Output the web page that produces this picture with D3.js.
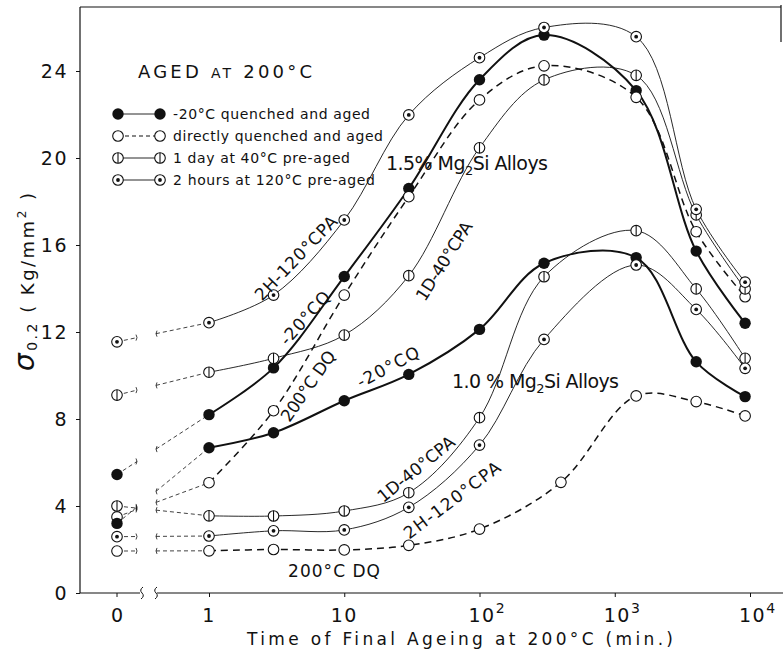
<!DOCTYPE html>
<html>
<head>
<meta charset="utf-8">
<script src="https://cdn.jsdelivr.net/npm/d3@7"></script>
<style>
  body { margin: 0; background: #fff; }
  svg { display: block; }
  text { font-family: "DejaVu Sans", "Liberation Sans", sans-serif; fill: #111; }
</style>
</head>
<body>
<svg id="chart" width="783" height="656"></svg>
<script>
// Ageing times (min.) of the measured points after the axis break
const timesMain = [1, 3, 10, 30, 100, 300, 1440, 4000, 9200];
const timesDQ10 = [1, 3, 10, 30, 100, 400, 1440, 4000, 9200];

// 1.5 % Mg2Si alloys: 0.2 % proof stress (Kg/mm2); "zero" = as-treated value at t = 0
const cq15Zero = 5.45;
const cq15 = [8.2, 10.35, 14.55, 18.6, 23.6, 25.65, 23.1, 15.72, 12.4];
const dq15Zero = 3.5;
const dq15 = [5.07, 8.38, 13.7, 18.22, 22.67, 24.24, 22.79, 16.61, 13.62];
const d40x15Zero = 9.1;
const d40x15 = [10.15, 10.79, 11.86, 14.59, 20.47, 23.59, 23.8, 17.38, 13.98];
const h120x15Zero = 11.55;
const h120x15 = [12.43, 13.7, 17.15, 21.98, 24.61, 26.0, 25.58, 17.64, 14.29];

// 1.0 % Mg2Si alloys
const cq10Zero = 3.2;
const cq10 = [6.68, 7.37, 8.84, 10.05, 12.12, 15.16, 15.42, 10.63, 9.03];
const dq10Zero = 1.93;
const dq10 = [1.94, 2.0, 1.98, 2.19, 2.94, 5.09, 9.06, 8.8, 8.14];
const d40x10Zero = 4.0;
const d40x10 = [3.55, 3.54, 3.77, 4.61, 8.06, 14.54, 16.66, 13.98, 10.79];
const h120x10Zero = 2.59;
const h120x10 = [2.62, 2.86, 2.9, 3.94, 6.8, 11.66, 15.08, 13.04, 10.33];

// Axis ticks
const yTicks = [0, 4, 8, 12, 16, 20, 24];
const xTicks = [1, 10, 100, 1000, 10000];
const xTickBase = ["1", "10", "10", "10", "10"];
const xTickExp = ["", "", "2", "3", "4"];

// Legend
const legendLabels = [
  "-20°C quenched and aged",
  "directly quenched and aged",
  "1 day at 40°C pre-aged",
  "2 hours at 120°C pre-aged"
];
const legendMarkers = ["filled", "open", "half", "dot"];

const INK = "#111";
const svg = d3.select("#chart");

const xs = d3.scaleLog().domain([1, 10000]).range([209, 750]);
const xZero = 117;
const ys = d3.scaleLinear().domain([0, 24]).range([593, 71]);

const series = [
  { zero: cq15Zero, times: timesMain, values: cq15, marker: "filled", style: "thick" },
  { zero: dq15Zero, times: timesMain, values: dq15, marker: "open", style: "dashed" },
  { zero: d40x15Zero, times: timesMain, values: d40x15, marker: "half", style: "thin" },
  { zero: h120x15Zero, times: timesMain, values: h120x15, marker: "dot", style: "thin" },
  { zero: cq10Zero, times: timesMain, values: cq10, marker: "filled", style: "thick" },
  { zero: dq10Zero, times: timesDQ10, values: dq10, marker: "open", style: "dashed" },
  { zero: d40x10Zero, times: timesMain, values: d40x10, marker: "half", style: "thin" },
  { zero: h120x10Zero, times: timesMain, values: h120x10, marker: "dot", style: "thin" }
];

const lineStyles = {
  thick: { w: 2.0, dash: null },
  dashed: { w: 1.5, dash: "7,5" },
  thin: { w: 0.9, dash: null }
};

// ---- frame and axes ----
const frame = svg.append("g").attr("stroke", INK).attr("fill", "none");
frame.append("line").attr("x1", 80).attr("x2", 80).attr("y1", 7).attr("y2", 593).attr("stroke-width", 1.2);
frame.append("line").attr("x1", 80).attr("x2", 781).attr("y1", 7).attr("y2", 7).attr("stroke-width", 1.2);
frame.append("line").attr("x1", 781).attr("x2", 781).attr("y1", 5).attr("y2", 42).attr("stroke-width", 1.2);
frame.append("line").attr("x1", 80).attr("x2", 140).attr("y1", 593).attr("y2", 593).attr("stroke-width", 1.2);
frame.append("line").attr("x1", 157).attr("x2", 783).attr("y1", 593).attr("y2", 593).attr("stroke-width", 1.2);
// break marks on the time axis
frame.append("path").attr("stroke-width", 1)
  .attr("d", "M143,587 q-4,3 -1,6 q3,3 -1,6");
frame.append("path").attr("stroke-width", 1)
  .attr("d", "M157,587 q-4,3 -1,6 q3,3 -1,6");

// y axis ticks + labels
const yAxis = d3.axisLeft(ys).tickValues(yTicks).tickSize(4).tickPadding(8).tickFormat(d3.format("d"));
const gy = svg.append("g").attr("transform", "translate(80,0)").call(yAxis);
gy.select(".domain").remove();
gy.selectAll(".tick line").attr("stroke", INK);
gy.selectAll(".tick text")
  .attr("font-size", 19).attr("letter-spacing", 1.5)
  .attr("font-family", "DejaVu Sans, sans-serif").attr("fill", INK);

// x axis ticks (labels drawn separately for superscripts)
const xAxis = d3.axisBottom(xs).tickValues(xTicks).tickSize(4).tickFormat("");
const gx = svg.append("g").attr("transform", "translate(0,593)").call(xAxis);
gx.select(".domain").remove();
gx.selectAll(".tick line").attr("stroke", INK);
svg.append("line").attr("x1", xZero).attr("x2", xZero).attr("y1", 593).attr("y2", 597).attr("stroke", INK);

svg.append("text").attr("x", xZero).attr("y", 622).attr("text-anchor", "middle")
  .attr("font-size", 19).text("0");
xTicks.forEach((t, i) => {
  const tx = svg.append("text").attr("y", 622).attr("font-size", 19).attr("letter-spacing", 1.5);
  if (xTickExp[i]) {
    tx.attr("x", xs(t) - 11).attr("text-anchor", "start");
    tx.append("tspan").text(xTickBase[i]);
    tx.append("tspan").attr("font-size", 14).attr("dy", -9).text(xTickExp[i]);
  } else {
    tx.attr("x", xs(t)).attr("text-anchor", "middle").text(xTickBase[i]);
  }
});

// axis titles
svg.append("text").attr("x", 247).attr("y", 645).attr("font-size", 17)
  .attr("textLength", 426).attr("lengthAdjust", "spacing")
  .text("Time of Final Ageing at 200°C (min.)");

const yt = svg.append("text").attr("transform", "translate(34,371) rotate(-90)")
  .attr("text-anchor", "start").attr("textLength", 178).attr("lengthAdjust", "spacing");
yt.append("tspan").attr("font-size", 28).attr("font-style", "italic").text("σ");
yt.append("tspan").attr("font-size", 14).attr("dy", 3).text("0.2");
yt.append("tspan").attr("font-size", 18).attr("dy", -3).text(" ( Kg/mm");
yt.append("tspan").attr("font-size", 12).attr("dy", -8).text("2");
yt.append("tspan").attr("font-size", 18).attr("dy", 8).text(" )");

// ---- curves ----
const curve = d3.line().x(d => xs(d.t)).y(d => ys(d.v)).curve(d3.curveCatmullRom.alpha(0.5));
const gLines = svg.append("g").attr("fill", "none").attr("stroke", INK);

series.forEach(s => {
  const st = lineStyles[s.style];
  const pts = s.times.map((t, i) => ({ t, v: s.values[i] }));
  gLines.append("path").attr("d", curve(pts))
    .attr("stroke-width", st.w)
    .attr("stroke-dasharray", st.dash);

  // broken thin dashed connection from t = 0 across the axis break
  const x0 = xZero, y0 = ys(s.zero), x1 = xs(s.times[0]), y1 = ys(s.values[0]);
  const at = x => y0 + (y1 - y0) * (x - x0) / (x1 - x0);
  const xa = 137, xb = 156;
  gLines.append("path")
    .attr("d", `M${x0},${y0}L${xa},${at(xa)}M${xb},${at(xb)}L${x1},${y1}`)
    .attr("stroke-width", 0.8).attr("stroke-dasharray", "4,3");
  gLines.append("path")
    .attr("d", `M${xa - 1},${at(xa) - 3} q2,3 0,6 M${xb + 1},${at(xb) - 3} q-2,3 0,6`)
    .attr("stroke-width", 0.8);
});

// ---- markers ----
function drawMarker(g, type, cx, cy) {
  const r = 5.3;
  if (type === "filled") {
    g.append("circle").attr("cx", cx).attr("cy", cy).attr("r", r + 0.4).attr("fill", INK);
    return;
  }
  g.append("circle").attr("cx", cx).attr("cy", cy).attr("r", r)
    .attr("fill", "#fff").attr("stroke", INK).attr("stroke-width", 1.1);
  if (type === "half") {
    g.append("line").attr("x1", cx).attr("x2", cx).attr("y1", cy - r).attr("y2", cy + r)
      .attr("stroke", INK).attr("stroke-width", 1.1);
  } else if (type === "dot") {
    g.append("circle").attr("cx", cx).attr("cy", cy).attr("r", 1.9).attr("fill", INK);
  }
}
const gMarks = svg.append("g");
series.forEach(s => {
  drawMarker(gMarks, s.marker, xZero, ys(s.zero));
  s.times.forEach((t, i) => drawMarker(gMarks, s.marker, xs(t), ys(s.values[i])));
});

// ---- heading and legend ----
const head = svg.append("text").attr("x", 138).attr("y", 78).attr("font-size", 18)
  .attr("textLength", 174).attr("lengthAdjust", "spacing");
head.append("tspan").text("AGED ");
head.append("tspan").attr("font-size", 14).text("AT");
head.append("tspan").text(" 200°C");

const legRowY = [114, 136, 158, 180];
const legTextLen = [197, 210, 177, 202];
legendLabels.forEach((lab, i) => {
  const y = legRowY[i];
  svg.append("line").attr("x1", 118).attr("x2", 160).attr("y1", y).attr("y2", y)
    .attr("stroke", INK).attr("stroke-width", i === 1 ? 1.1 : 0.9)
    .attr("stroke-dasharray", i === 1 ? "4,3" : null);
  drawMarker(svg, legendMarkers[i], 118, y);
  drawMarker(svg, legendMarkers[i], 160, y);
  svg.append("text").attr("x", 173).attr("y", y + 5).attr("font-size", 14)
    .attr("textLength", legTextLen[i]).attr("lengthAdjust", "spacing").text(lab);
});

// ---- curve annotations ----
function alloyLabel(x, y, len, pct) {
  const t = svg.append("text").attr("x", x).attr("y", y).attr("font-size", 19)
    .attr("textLength", len).attr("lengthAdjust", "spacing");
  t.append("tspan").text(pct + " Mg");
  t.append("tspan").attr("font-size", 13).attr("dy", 5).text("2");
  t.append("tspan").attr("dy", -5).text("Si Alloys");
}
alloyLabel(386, 170, 162, "1.5%");
alloyLabel(452, 388, 167, "1.0 %");

const curveNotes = [
  { text: "2H-120°CPA", cx: 296, cy: 258, angle: -46, len: 110 },
  { text: "-20°CQ", cx: 305, cy: 318, angle: -48, len: 66 },
  { text: "200°C DQ", cx: 308, cy: 386, angle: -55, len: 82 },
  { text: "1D-40°CPA", cx: 444, cy: 261, angle: -57.5, len: 90 },
  { text: "-20°CQ", cx: 388, cy: 367, angle: -28, len: 68 },
  { text: "1D-40°CPA", cx: 416, cy: 469, angle: -39, len: 94 },
  { text: "2H-120°CPA", cx: 452, cy: 500, angle: -37, len: 116 },
  { text: "200°C DQ", cx: 334, cy: 571, angle: 0, len: 92 }
];
curveNotes.forEach(n => {
  svg.append("text")
    .attr("transform", `translate(${n.cx},${n.cy}) rotate(${n.angle})`)
    .attr("text-anchor", "middle").attr("dominant-baseline", "central")
    .attr("font-size", 17).attr("textLength", n.len).attr("lengthAdjust", "spacing")
    .text(n.text);
});
</script>
</body>
</html>
